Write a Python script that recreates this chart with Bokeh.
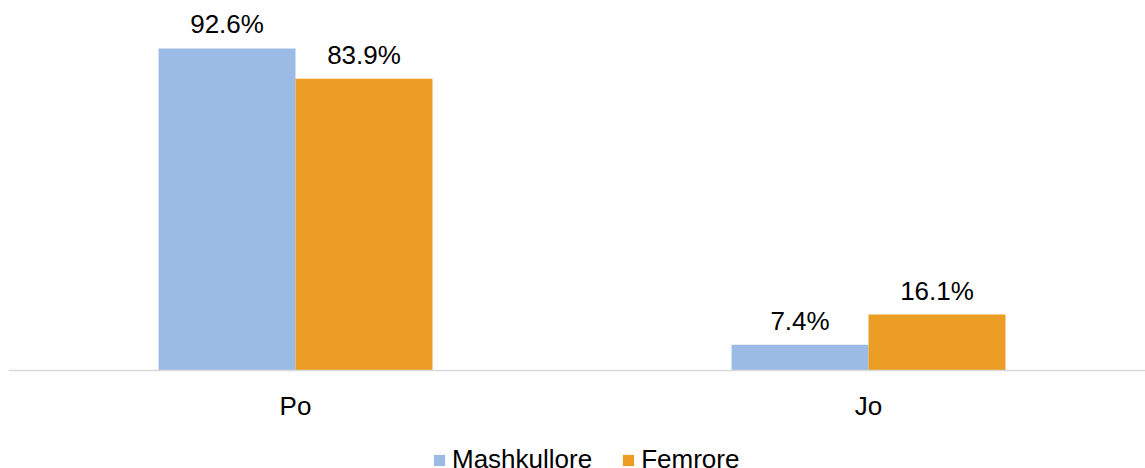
from bokeh.plotting import figure
from bokeh.models import ColumnDataSource, Range1d, FixedTicker, Legend, LegendItem
from bokeh.transform import dodge
from bokeh.core.properties import value
from bokeh.embed import file_html
from bokeh.resources import INLINE

categories = ["Po", "Jo"]
mashkullore = [92.6, 7.4]
femrore = [83.9, 16.1]
series_names = ["Mashkullore", "Femrore"]

FONT = "Liberation Sans"
FS = "26px"
BLUE = "#9BBBE5"
ORANGE = "#EA9D22"

xs = list(range(len(categories)))
source = ColumnDataSource(dict(
    x=xs,
    m=mashkullore,
    f=femrore,
    m_lbl=[f"{v:.1f}%" for v in mashkullore],
    f_lbl=[f"{v:.1f}%" for v in femrore],
))

p = figure(width=1145, height=468,
           x_range=Range1d(-0.5009, 1.4834), y_range=Range1d(-28.18, 106.4),
           output_backend="svg", toolbar_location=None,
           min_border_left=8, min_border_right=0, min_border_top=0, min_border_bottom=0)

bw = 0.239
r1 = p.vbar(x=dodge("x", -bw / 2), top="m", width=bw, bottom=0, source=source,
            fill_color=BLUE, line_color=None)
r2 = p.vbar(x=dodge("x", bw / 2), top="f", width=bw, bottom=0, source=source,
            fill_color=ORANGE, line_color=None)

for col, lbl, off in (("m", "m_lbl", -bw / 2), ("f", "f_lbl", bw / 2)):
    p.text(x=dodge("x", off), y=col, text=lbl, source=source,
           text_align="center", text_baseline="alphabetic", y_offset=-24,
           text_font=value(FONT), text_font_size=FS, text_color="#000000")

p.yaxis.visible = False
p.xgrid.visible = False
p.ygrid.visible = False
p.outline_line_color = None

ax = p.xaxis[0]
ax.fixed_location = 0
ax.ticker = FixedTicker(ticks=xs)
ax.major_label_overrides = {i: c for i, c in enumerate(categories)}
ax.major_tick_line_color = None
ax.minor_tick_line_color = None
ax.axis_line_color = "#D9D9D9"
ax.axis_line_width = 1.5
ax.major_label_standoff = 14
ax.major_label_text_font = FONT
ax.major_label_text_font_size = FS
ax.major_label_text_color = "#000000"

legend = Legend(items=[LegendItem(label=series_names[0], renderers=[r1]),
                       LegendItem(label=series_names[1], renderers=[r2])],
                orientation="horizontal", location=(424, -7),
                glyph_width=14, glyph_height=14, label_standoff=6, spacing=29,
                padding=0, margin=0, border_line_color=None, background_fill_alpha=0,
                label_text_font=FONT, label_text_font_size=FS,
                label_text_color="#000000")
p.add_layout(legend, "center")

open("out.html", "w").write(file_html(p, INLINE))
